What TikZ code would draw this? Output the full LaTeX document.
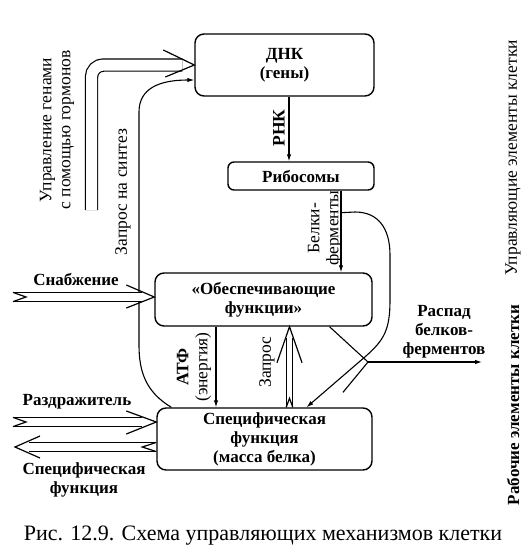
\documentclass[tikz,border=0pt]{standalone}
\usepackage{fontspec}
\setmainfont{Liberation Serif}
\usetikzlibrary{arrows.meta, calc}
\tikzset{
  box/.style={draw, line width=1.4pt, rounded corners=9pt, align=center, inner sep=2pt,
    font=\bfseries\fontsize{17}{19}\selectfont},
  lbl/.style={align=center, inner sep=0pt, font=\bfseries\fontsize{17}{19}\selectfont},
  vlbl/.style={align=center, inner sep=0pt, rotate=90, font=\fontsize{17.5}{19}\selectfont},
  arr/.style={-{Latex[length=7pt, width=4.5pt]}, line width=1.1pt},
  wire/.style={line width=1.1pt},
  dbl/.style={double, double distance=#1, line width=1.2pt},
  dbl/.default=8pt,
  barb/.style={line width=1.2pt, line join=miter},
}

\begin{document}
\begin{tikzpicture}[x=1pt, y=-1pt]
    \useasboundingbox (0,0) rectangle (528,557);
    \node[box, minimum width=179pt, minimum height=62pt] (dna) at (284.5,65) {ДНК\\(гены)};
    \node[box, rounded corners=6pt, minimum width=146pt, minimum height=28pt] (ribo) at (301,176) {Рибосомы};
    \node[box, minimum width=217pt, minimum height=53pt] (obesp) at (263.5,299.5) {«Обеспечивающие\\функции»};
    \node[box, minimum width=215pt, minimum height=62pt] (spec) at (264.5,439) {Специфическая\\функция\\(масса белка)};

    \coordinate (ctrl) at (91.5,210);
    \draw[dbl=11pt, rounded corners=12pt] (ctrl) |- ($(dna.west)+(-12,0)$);
    \draw[barb] ($(dna.west)+(-31,-15)$) -- (dna.west) -- ($(dna.west)+(-29,12)$);
    \node[vlbl] (lctrl) at (57,130) {Управление генами\\с помощью гормонов};

    \draw[arr] ($(dna.south)+(4.5,0)$) -- ($(ribo.north)+(-12,0)$);
    \node[vlbl, font=\bfseries\fontsize{17.5}{19}\selectfont] (lrna) at (279,128) {РНК};

    \draw[arr] ($(ribo.south)+(40,0)$) -- ($(obesp.north)+(77.5,0)$);
    \node[vlbl] (lbelki) at (325,228) {Белки-\\ферменты};

    \coordinate (br) at ($(ribo.south)+(40,22)$);
    \draw[arr] (br) -- (355,212) .. controls (378,212) and (390,228) .. (390,255) -- (390,300)
      .. controls (390,330) and (384,340) .. (366,356) -- ($(spec.north)+(42,0)$);

    \coordinate (J) at (368,362);
    \coordinate (decay) at (482,362);
    \draw[wire] ($(obesp.south)+(66,0)$) -- (J);
    \draw[wire] ($(spec.north)+(78.5,-15)$) -- (J);
    \draw[arr] (J) -- (decay);
    \node[lbl] (ldecay) at (444,332) {Распад\\белков-\\ферментов};

    \draw[arr] ($(obesp.south)+(-47.5,0)$) -- ($(spec.north)+(-48.5,0)$);
    \node[vlbl] (latf) at (194,367) {\textbf{АТФ}\\(энергия)};

    \draw[dbl=5.5pt] ($(spec.north)+(25,0)$) -- ($(obesp.south)+(26,11)$);
    \draw[barb] ($(obesp.south)+(13.5,36)$) -- ($(obesp.south)+(26,0)$) -- ($(obesp.south)+(38.5,36)$);
    \draw[barb] ($(spec.north)+(21.7,0)$) -- ($(spec.north)+(25,-9)$) -- ($(spec.north)+(28.3,0)$);
    \node[vlbl] (lreq) at (267,362) {Запрос};

    \draw[arr] ($(spec.north west)+(15,0)$) .. controls (146,392) and (139,372) .. (139,345) -- (139,112)
      .. controls (139,88) and (160,80) .. ($(dna.west)+(0,15)$);
    \node[vlbl] (lsyn) at (123,192) {Запрос на синтез};

    \coordinate (supply) at (13,297);
    \draw[dbl] (supply) -- ($(obesp.west)+(-12,-2.5)$);
    \draw[barb] ($(obesp.west)+(-28,-14.5)$) -- ($(obesp.west)+(0,-2.5)$) -- ($(obesp.west)+(-28,8.5)$);
    \draw[barb] ($(supply)+(0,-4.6)$) -- ($(supply)+(13,0)$) -- ($(supply)+(0,4.6)$);
    \node[lbl] (lsupply) at (76,279) {Снабжение};

    \coordinate (stim) at (13,422);
    \draw[dbl] (stim) -- ($(spec.west)+(-14,-17)$);
    \draw[barb] ($(spec.west)+(-30,-28)$) -- ($(spec.west)+(0,-17)$) -- ($(spec.west)+(-30,-5)$);
    \draw[barb] ($(stim)+(0,-4.6)$) -- ($(stim)+(13,0)$) -- ($(stim)+(0,4.6)$);
    \node[lbl] (lstim) at (77,402) {Раздражитель};

    \coordinate (out) at (15,447);
    \draw[dbl] ($(spec.west)+(-1,8)$) -- ($(out)+(14,0)$);
    \draw[barb] ($(out)+(25,-11)$) -- (out) -- ($(out)+(25,11)$);
    \draw[barb] ($(spec.west)+(0,3.4)$) -- ($(spec.west)+(-14,8)$) -- ($(spec.west)+(0,12.6)$);
    \node[lbl] (lout) at (84,480) {Специфическая\\функция};

    \node[vlbl] (lcontrol) at (513,158) {Управляющие элементы клетки};
    \node[vlbl, font=\bfseries\fontsize{17}{19}\selectfont] (lwork) at (513,405) {Рабочие элементы клетки};

    \node[lbl, font=\fontsize{22}{24}\selectfont] (cap) at (263,536) {Рис. 12.9. Схема управляющих механизмов клетки};
\end{tikzpicture}
\end{document}
